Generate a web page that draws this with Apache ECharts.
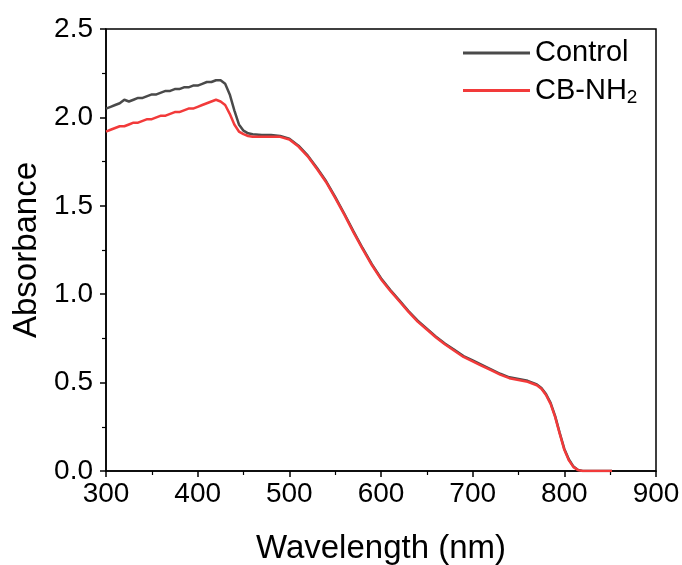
<!DOCTYPE html>
<html>
<head>
<meta charset="utf-8">
<script src="https://cdn.jsdelivr.net/npm/echarts@6/dist/echarts.min.js"></script>
<style>
  html, body { margin: 0; padding: 0; background: #fff; }
  #chart { width: 682px; height: 565px; }
</style>
</head>
<body>
<div id="chart"></div>
<script>
// wavelength (nm)
const wavelengths = [
  300,305,310,315,320,325,330,335,340,345,350,355,360,365,370,375,380,385,390,395,
  400,405,410,415,420,425,430,435,440,445,450,455,460,
  470,480,490,500,510,520,530,540,550,560,570,580,590,600,610,620,630,640,650,660,
  670,680,690,700,710,720,730,740,750,760,
  765,770,775,780,785,790,795,800,805,810,815,820,830,840,848,850,852
];

const control = [
  2.05,2.06,2.07,2.08,2.10,2.09,2.10,2.11,2.11,2.12,2.13,2.13,2.14,2.15,2.15,2.16,2.16,2.17,2.17,2.18,
  2.18,2.19,2.20,2.20,2.21,2.21,2.19,2.13,2.04,1.96,1.925,1.91,1.905,
  1.90,1.90,1.895,1.88,1.84,1.785,1.715,1.64,1.55,1.455,1.355,1.26,1.17,1.09,1.025,0.965,0.905,0.85,0.805,0.76,
  0.72,0.685,0.65,0.625,0.60,0.575,0.55,0.53,0.52,0.51,
  0.50,0.49,0.47,0.435,0.385,0.31,0.215,0.125,0.065,0.025,0.006,0.0,0,0,0,0.01,0
];

const cbNH2 = [
  1.92,1.93,1.94,1.95,1.95,1.96,1.97,1.97,1.98,1.99,1.99,2.00,2.01,2.01,2.02,2.03,2.03,2.04,2.05,2.05,
  2.06,2.07,2.08,2.09,2.10,2.09,2.07,2.02,1.96,1.92,1.905,1.895,1.89,
  1.89,1.89,1.89,1.875,1.835,1.78,1.71,1.635,1.545,1.45,1.35,1.255,1.165,1.085,1.02,0.96,0.90,0.845,0.80,0.755,
  0.715,0.68,0.645,0.62,0.595,0.57,0.545,0.525,0.515,0.505,
  0.495,0.485,0.465,0.43,0.38,0.305,0.21,0.12,0.06,0.022,0.005,0.0,0,0,0,0.01,0
];

const xTicks = [300, 400, 500, 600, 700, 800, 900];
const yTicks = [0.0, 0.5, 1.0, 1.5, 2.0, 2.5];

const font = '"Liberation Sans", Arial, sans-serif';
const pair = (vals) => wavelengths.map((w, i) => [w, vals[i]]);

const chart = echarts.init(document.getElementById('chart'));
chart.setOption({
  animation: false,
  backgroundColor: '#fff',
  grid: {
    left: 106, right: 26, top: 29, bottom: 94,
    outerBoundsMode: 'none',
    show: true, borderColor: '#000', borderWidth: 1.5
  },
  legend: {
    orient: 'vertical',
    left: 458, top: 33,
    icon: 'rect',
    itemWidth: 67, itemHeight: 3, itemGap: 6,
    textStyle: {
      fontFamily: font, fontSize: 29, color: '#000', lineHeight: 30,
      rich: { sub: { fontFamily: font, fontSize: 19, color: '#000', lineHeight: 30, padding: [14, 0, 0, 0] } }
    },
    formatter: (name) => name === 'CB-NH2' ? 'CB-NH{sub|2}' : name,
    data: ['Control', 'CB-NH2']
  },
  xAxis: {
    type: 'value',
    min: xTicks[0], max: xTicks[xTicks.length - 1], interval: 100,
    name: 'Wavelength (nm)', nameLocation: 'middle', nameGap: 61,
    nameTextStyle: { fontFamily: font, fontSize: 33, color: '#000' },
    axisLine: { lineStyle: { color: '#000', width: 1.5 } },
    axisTick: { length: 6, lineStyle: { color: '#000', width: 1.5 } },
    minorTick: { show: true, splitNumber: 2, length: 4, lineStyle: { color: '#000', width: 1.2 } },
    axisLabel: { fontFamily: font, fontSize: 28, color: '#000', margin: 9 },
    splitLine: { show: false }
  },
  yAxis: {
    type: 'value',
    min: yTicks[0], max: yTicks[yTicks.length - 1], interval: 0.5,
    name: 'Absorbance', nameLocation: 'middle', nameGap: 61,
    nameTextStyle: { fontFamily: font, fontSize: 33, color: '#000' },
    axisLine: { show: true, lineStyle: { color: '#000', width: 1.5 } },
    axisTick: { show: true, length: 6, lineStyle: { color: '#000', width: 1.5 } },
    minorTick: { show: true, splitNumber: 2, length: 4, lineStyle: { color: '#000', width: 1.2 } },
    axisLabel: { fontFamily: font, fontSize: 28, color: '#000', margin: 13, formatter: (v) => v.toFixed(1) },
    splitLine: { show: false }
  },
  series: [
    {
      name: 'Control', type: 'line', symbol: 'none', smooth: false,
      data: pair(control),
      lineStyle: { color: '#4a4a4a', width: 2.5 },
      itemStyle: { color: '#4a4a4a' }
    },
    {
      name: 'CB-NH2', type: 'line', symbol: 'none', smooth: false,
      data: pair(cbNH2),
      lineStyle: { color: '#f23a3a', width: 2.5 },
      itemStyle: { color: '#f23a3a' }
    }
  ]
});
</script>
</body>
</html>
